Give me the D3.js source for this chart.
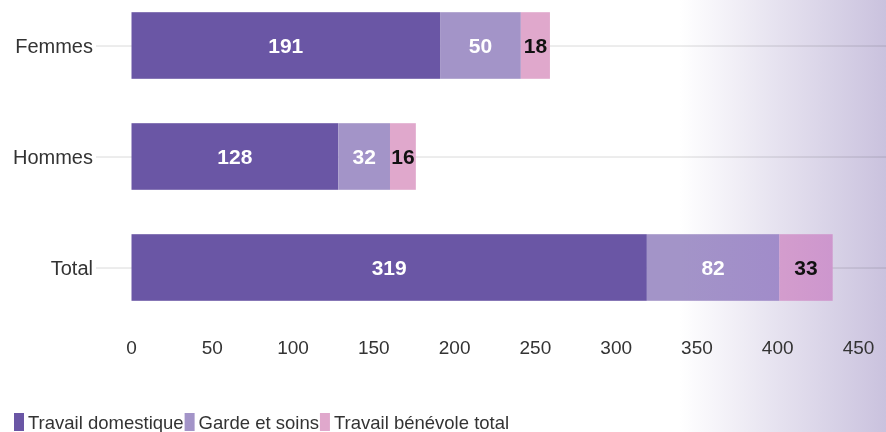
<!DOCTYPE html>
<html>
<head>
<meta charset="utf-8">
<script src="https://cdn.jsdelivr.net/npm/d3@7"></script>
<style>
  body { margin: 0; background: #fff; }
  svg { display: block; font-family: "Liberation Sans", Arial, sans-serif; }
</style>
</head>
<body>
<svg width="886" height="432"></svg>
<script>
const categories = ["Femmes", "Hommes", "Total"];
const seriesNames = ["Travail domestique", "Garde et soins", "Travail bénévole total"];
const domestique = [191, 128, 319];
const garde = [50, 32, 82];
const benevole = [18, 16, 33];
const ticks = [0, 50, 100, 150, 200, 250, 300, 350, 400, 450];

const colors = ["#6a56a5", "#a394c8", "#e0a8cc"];
const labelColors = ["#ffffff", "#ffffff", "#111111"];

const svg = d3.select("svg");
const W = 886, H = 432;

const data = categories.map((c, i) => ({
  cat: c,
  "Travail domestique": domestique[i],
  "Garde et soins": garde[i],
  "Travail bénévole total": benevole[i]
}));
const stacked = d3.stack().keys(seriesNames)(data);

const x = d3.scaleLinear().domain([0, 450]).range([131.5, 858.5]);
const y = d3.scaleBand().domain(categories).range([-10, 323])
  .paddingInner(0.4).paddingOuter(0.2);

// gradients
const defs = svg.append("defs");
const grad = defs.append("linearGradient").attr("id", "bgGrad")
  .attr("x1", 0).attr("x2", 1).attr("y1", 0).attr("y2", 0);
grad.append("stop").attr("offset", "0%").attr("stop-color", "#ffffff");
grad.append("stop").attr("offset", "100%").attr("stop-color", "#cac2de");

const tint = defs.append("linearGradient").attr("id", "tintGrad")
  .attr("gradientUnits", "userSpaceOnUse")
  .attr("x1", 680).attr("x2", W).attr("y1", 0).attr("y2", 0);
tint.append("stop").attr("offset", "0%").attr("stop-color", "#9664d2").attr("stop-opacity", 0);
tint.append("stop").attr("offset", "100%").attr("stop-color", "#9664d2").attr("stop-opacity", 0.35);

// background wash
svg.append("rect")
  .attr("x", 680).attr("y", 0).attr("width", W - 680).attr("height", H)
  .attr("fill", "url(#bgGrad)");

// grid lines
svg.append("g").style("mix-blend-mode", "multiply").selectAll("line")
  .data(categories).join("line")
  .attr("x1", 96).attr("x2", W)
  .attr("y1", d => y(d) + y.bandwidth() / 2 + 0.5)
  .attr("y2", d => y(d) + y.bandwidth() / 2 + 0.5)
  .attr("stroke", "#dadada").attr("stroke-width", 1);

// category labels
svg.append("g").selectAll("text")
  .data(categories).join("text")
  .attr("x", 93)
  .attr("y", d => y(d) + y.bandwidth() / 2)
  .attr("dy", "0.35em")
  .attr("text-anchor", "end")
  .attr("font-size", 20)
  .attr("fill", "#333")
  .text(d => d);

// bars
const clip = defs.append("clipPath").attr("id", "barClip");
const layers = svg.append("g").selectAll("g")
  .data(stacked).join("g")
  .attr("fill", (d, i) => colors[i]);

layers.selectAll("rect")
  .data(d => d).join("rect")
  .attr("x", d => x(d[0]))
  .attr("width", d => x(d[1]) - x(d[0]))
  .attr("y", d => y(d.data.cat))
  .attr("height", y.bandwidth());

stacked.forEach(s => {
  clip.selectAll(null).data(s).join("rect")
    .attr("x", d => x(d[0]))
    .attr("width", d => x(d[1]) - x(d[0]))
    .attr("y", d => y(d.data.cat))
    .attr("height", y.bandwidth());
});

// tint of bars under the wash
svg.append("rect")
  .attr("x", 680).attr("y", 0).attr("width", W - 680).attr("height", H)
  .attr("fill", "url(#tintGrad)")
  .attr("clip-path", "url(#barClip)");

// value labels
const lab = svg.append("g");
stacked.forEach((s, si) => {
  lab.selectAll(null)
    .data(s).join("text")
    .attr("x", d => (x(d[0]) + x(d[1])) / 2)
    .attr("y", d => y(d.data.cat) + y.bandwidth() / 2)
    .attr("dy", "0.35em")
    .attr("text-anchor", "middle")
    .attr("font-size", 21)
    .attr("font-weight", "bold")
    .attr("fill", labelColors[si])
    .text(d => d[1] - d[0]);
});

// x axis tick labels
svg.append("g").selectAll("text")
  .data(ticks).join("text")
  .attr("x", d => x(d))
  .attr("y", 354)
  .attr("text-anchor", "middle")
  .attr("font-size", 19)
  .attr("fill", "#333")
  .text(d => d);

// legend
const leg = svg.append("g");
let lx = 14;
seriesNames.forEach((n, i) => {
  leg.append("rect").attr("x", lx).attr("y", 413).attr("width", 10).attr("height", 18)
    .attr("fill", colors[i]);
  const t = leg.append("text").attr("x", lx + 14).attr("y", 429)
    .attr("font-size", 18.5).attr("fill", "#333").text(n);
  lx += 14 + t.node().getComputedTextLength() + 1;
});
</script>
</body>
</html>
